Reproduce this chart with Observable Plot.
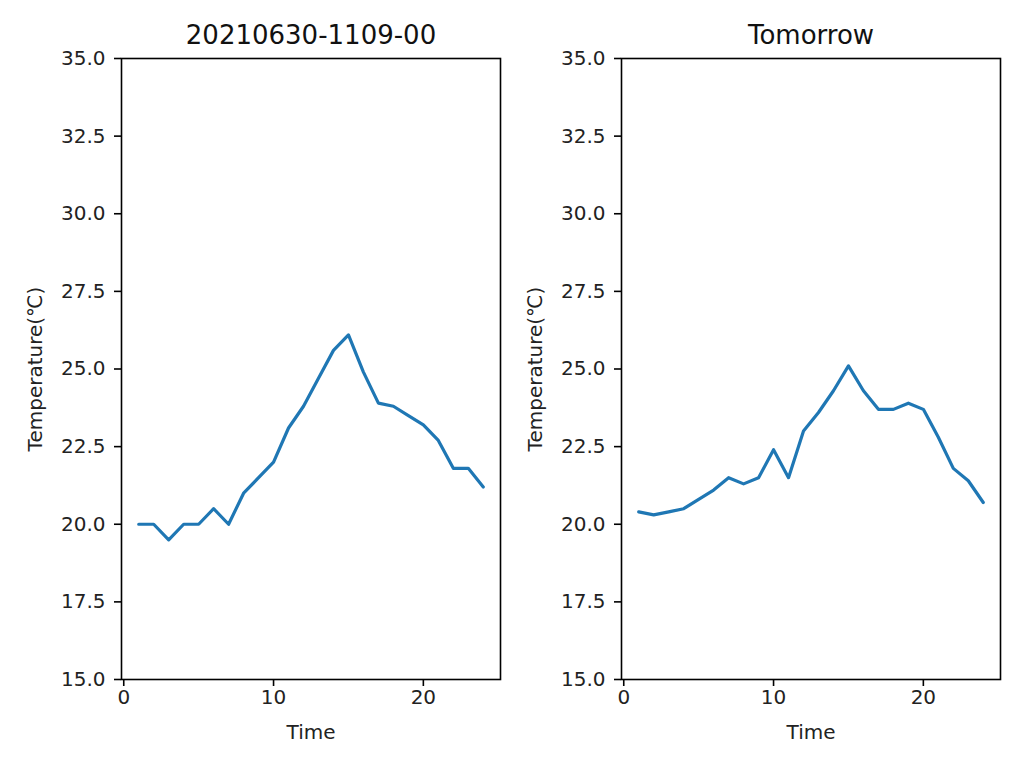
<!DOCTYPE html>
<html>
<head>
<meta charset="utf-8">
<script src="https://cdn.jsdelivr.net/npm/d3@7"></script>
<script src="https://cdn.jsdelivr.net/npm/@observablehq/plot@0.6"></script>
<style>
  html, body { margin: 0; padding: 0; background: #fff; }
  #wrap { position: relative; width: 1024px; height: 768px; overflow: hidden; }
  #wrap > div { position: absolute; top: 0; }
</style>
</head>
<body>
<div id="wrap"><div id="left"></div><div id="right"></div></div>
<script>
const hours = [1,2,3,4,5,6,7,8,9,10,11,12,13,14,15,16,17,18,19,20,21,22,23,24];
const todayTemps = [20.0,20.0,19.5,20.0,20.0,20.5,20.0,21.0,21.5,22.0,23.1,23.8,24.7,25.6,26.1,24.9,23.9,23.8,23.5,23.2,22.7,21.8,21.8,21.2];
const tomorrowTemps = [20.4,20.3,20.4,20.5,20.8,21.1,21.5,21.3,21.5,22.4,21.5,23.0,23.6,24.3,25.1,24.3,23.7,23.7,23.9,23.7,22.8,21.8,21.4,20.7];
const titles = ["20210630-1109-00", "Tomorrow"];
const xTicks = [0, 10, 20];
const yTicks = [15, 17.5, 20, 22.5, 25, 27.5, 30, 32.5, 35];
const xLabel = "Time";
const yLabel = "Temperature(℃)";

const FONT = "'DejaVu Sans', 'Noto Sans CJK JP', sans-serif";

function panel(temps, title) {
  const data = hours.map((h, i) => ({hour: h, temp: temps[i]}));
  return Plot.plot({
    width: 512,
    height: 768,
    marginLeft: 121,
    marginRight: 12,
    marginTop: 58,
    marginBottom: 89,
    style: {background: "transparent", fontFamily: FONT, fontSize: "20px", color: "#222"},
    x: {domain: [-0.15, 25.15], ticks: xTicks},
    y: {domain: [15, 35], ticks: yTicks},
    marks: [
      Plot.line(data, {x: "hour", y: "temp", stroke: "#1f77b4", strokeWidth: 3.2}),
      Plot.frame({stroke: "#000", strokeWidth: 1.6}),
      Plot.axisX({ticks: xTicks, tickSize: 7, tickPadding: 3, tickFormat: d3.format("d"), label: null, stroke: "#000", strokeWidth: 1.6, fontSize: 20, fill: "#222"}),
      Plot.axisY({ticks: yTicks, tickSize: 7, tickPadding: 9, tickFormat: d3.format(".1f"), label: null, stroke: "#000", strokeWidth: 1.6, fontSize: 20, fill: "#222"}),
      Plot.text([title], {frameAnchor: "top", dy: -23, text: d => d, fontSize: 26, lineAnchor: "middle", fill: "#111"}),
      Plot.text([xLabel], {frameAnchor: "bottom", dy: 53, text: d => d, fontSize: 20, lineAnchor: "middle", fill: "#222"}),
      Plot.text([yLabel], {frameAnchor: "left", dx: -86, text: d => d, fontSize: 20, rotate: -90, textAnchor: "middle", lineAnchor: "middle", fill: "#222"})
    ]
  });
}

const l = document.getElementById("left");
const r = document.getElementById("right");
l.style.left = "0px";
r.style.left = "500px";
l.appendChild(panel(todayTemps, titles[0]));
r.appendChild(panel(tomorrowTemps, titles[1]));
</script>
</body>
</html>
